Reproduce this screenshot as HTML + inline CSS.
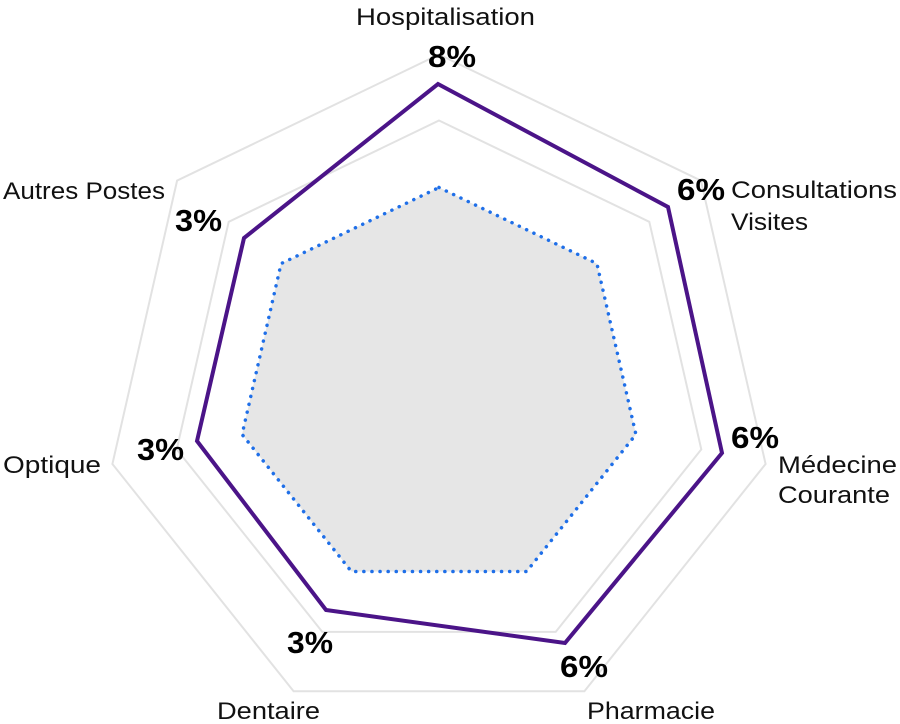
<!DOCTYPE html>
<html><head><meta charset="utf-8"><style>
body{margin:0;background:#fff;}
svg{display:block;font-family:"Liberation Sans",sans-serif;}
.l{font-size:24px;fill:#111;}
.p{font-size:31px;font-weight:bold;fill:#000;}
</style></head><body>
<svg width="900" height="724" viewBox="0 0 900 724">
<g id="c"></g>
<script>
var cx=439,cy=389.5;
function pts(rs){var s=[];for(var i=0;i<7;i++){var a=(-90+i*360/7)*Math.PI/180;var r=rs[i];s.push((cx+r*Math.cos(a)).toFixed(1)+","+(cy+r*Math.sin(a)).toFixed(1));}return s.join(" ");}
var g=document.getElementById("c"),ns="http://www.w3.org/2000/svg";
function poly(p,attrs){var e=document.createElementNS(ns,"polygon");e.setAttribute("points",p);for(var k in attrs)e.setAttribute(k,attrs[k]);g.appendChild(e);}
poly(pts([335,335,335,335,335,335,335]),{fill:"none",stroke:"#e2e2e2","stroke-width":2});
poly(pts([269,269,269,269,269,269,269]),{fill:"none",stroke:"#e2e2e2","stroke-width":2});
poly(pts([202,202,202,202,202,202,202]),{fill:"#e6e6e6",stroke:"#1f6fe8","stroke-width":3.5,"stroke-dasharray":"0.1 8","stroke-linecap":"round"});
poly("438,84 668,207 722,453 565,643 326,610 197,441 244,238",{fill:"none",stroke:"#4b1488","stroke-width":4,"stroke-linejoin":"miter"});
</script>
<text class="l" x="356" y="25" textLength="179" lengthAdjust="spacingAndGlyphs">Hospitalisation</text>
<text class="p" x="428" y="67" textLength="48" lengthAdjust="spacingAndGlyphs">8%</text>
<text class="p" x="677" y="200" textLength="48" lengthAdjust="spacingAndGlyphs">6%</text>
<text class="l" x="731" y="198" textLength="166" lengthAdjust="spacingAndGlyphs">Consultations</text>
<text class="l" x="731" y="230" textLength="77" lengthAdjust="spacingAndGlyphs">Visites</text>
<text class="p" x="731" y="448" textLength="48" lengthAdjust="spacingAndGlyphs">6%</text>
<text class="l" x="778" y="473" textLength="119" lengthAdjust="spacingAndGlyphs">Médecine</text>
<text class="l" x="778" y="503" textLength="112" lengthAdjust="spacingAndGlyphs">Courante</text>
<text class="p" x="560" y="677" textLength="48" lengthAdjust="spacingAndGlyphs">6%</text>
<text class="l" x="587" y="719" textLength="128" lengthAdjust="spacingAndGlyphs">Pharmacie</text>
<text class="l" x="217" y="719" textLength="103" lengthAdjust="spacingAndGlyphs">Dentaire</text>
<text class="p" x="287" y="653" textLength="46" lengthAdjust="spacingAndGlyphs">3%</text>
<text class="l" x="3" y="473" textLength="98" lengthAdjust="spacingAndGlyphs">Optique</text>
<text class="p" x="137" y="460" textLength="47" lengthAdjust="spacingAndGlyphs">3%</text>
<text class="l" x="3" y="199" textLength="162" lengthAdjust="spacingAndGlyphs">Autres Postes</text>
<text class="p" x="175" y="231" textLength="47" lengthAdjust="spacingAndGlyphs">3%</text>
</svg>
</body></html>
